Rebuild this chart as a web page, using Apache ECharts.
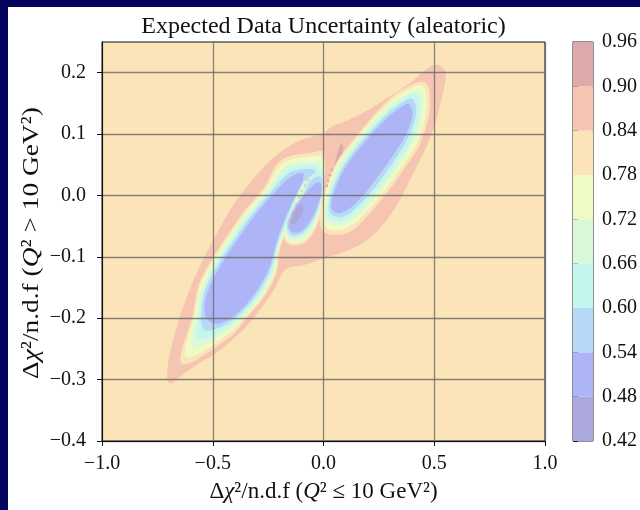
<!DOCTYPE html>
<html><head><meta charset="utf-8">
<script src="https://cdn.jsdelivr.net/npm/echarts@6/dist/echarts.min.js"></script>
<style>html,body{margin:0;padding:0;background:#fff}#c{width:640px;height:510px}</style>
</head><body><div id="c"></div>
<script>
// contour levels and fill colours (band i lies between levels[i] and levels[i+1])
const levels = [0.42,0.48,0.54,0.60,0.66,0.72,0.78,0.84,0.90,0.96];
const levelColors = ['#aaa8dc','#aeb5f6','#b7d8f6','#c3f6ec','#daf8da','#eefbc4','#fae4b8','#f6c5b1','#dcaaab'];
const xTicks = [-1.0,-0.5,0.0,0.5,1.0];
const yTicks = [-0.4,-0.3,-0.2,-0.1,0.0,0.1,0.2];

// contour outlines, in data units [x, y]
const envelope84 = [[-0.696,-0.306],[-0.704,-0.282],[-0.681,-0.238],[-0.636,-0.184],[-0.576,-0.129],[-0.501,-0.075],[-0.426,-0.026],[-0.350,0.012],[-0.260,0.050],[-0.170,0.077],[-0.080,0.093],[-0.005,0.100],[0.041,0.113],[0.101,0.121],[0.191,0.137],[0.311,0.164],[0.402,0.186],[0.462,0.205],[0.507,0.213],[0.544,0.207],[0.552,0.191],[0.537,0.164],[0.507,0.121],[0.462,0.077],[0.402,0.034],[0.341,-0.010],[0.281,-0.042],[0.206,-0.070],[0.101,-0.091],[-0.005,-0.103],[-0.095,-0.114],[-0.155,-0.117],[-0.188,-0.128],[-0.215,-0.148],[-0.275,-0.181],[-0.335,-0.208],[-0.411,-0.235],[-0.486,-0.257],[-0.561,-0.273],[-0.636,-0.292]];
const peak90 = [[0.080,0.085],[0.090,0.078],[0.078,0.060],[0.060,0.044],[0.050,0.042],[0.058,0.062]];
// broken (dotted) contour pieces along the two ridges
const ridgeDots90 = [[0.038,0.042],[0.029,0.033],[0.021,0.024],[0.015,0.016]];
const ridgeDots84 = [[-0.072,0.026],[-0.084,0.016],[-0.098,0.007],[-0.110,-0.003],[-0.122,-0.014],[-0.134,-0.024],[-0.146,-0.035],[-0.158,-0.044]];

const left84 = [[-0.038,0.071],[0.002,0.071],[-0.075,0.023],[-0.119,-0.014],[-0.158,-0.054],[-0.195,-0.085],[-0.212,-0.126],[-0.268,-0.165],[-0.343,-0.198],[-0.426,-0.232],[-0.639,-0.274],[-0.589,-0.192],[-0.565,-0.147],[-0.513,-0.109],[-0.445,-0.071],[-0.362,-0.027],[-0.272,0.011],[-0.189,0.058]];
const left78 = [[-0.050,0.064],[-0.005,0.063],[-0.080,0.022],[-0.123,-0.014],[-0.164,-0.053],[-0.200,-0.084],[-0.218,-0.124],[-0.274,-0.164],[-0.349,-0.196],[-0.433,-0.227],[-0.620,-0.263],[-0.580,-0.191],[-0.558,-0.149],[-0.505,-0.111],[-0.438,-0.073],[-0.355,-0.029],[-0.265,0.009],[-0.182,0.053]];
const left72 = [[-0.062,0.055],[-0.012,0.054],[-0.083,0.022],[-0.128,-0.013],[-0.168,-0.052],[-0.203,-0.083],[-0.224,-0.123],[-0.281,-0.162],[-0.356,-0.195],[-0.441,-0.222],[-0.589,-0.247],[-0.570,-0.190],[-0.549,-0.151],[-0.496,-0.113],[-0.429,-0.074],[-0.346,-0.031],[-0.256,0.007],[-0.171,0.047]];
const left66 = [[-0.072,0.049],[-0.023,0.047],[-0.087,0.021],[-0.131,-0.012],[-0.173,-0.051],[-0.208,-0.082],[-0.232,-0.122],[-0.289,-0.160],[-0.364,-0.193],[-0.448,-0.217],[-0.565,-0.233],[-0.559,-0.189],[-0.541,-0.153],[-0.489,-0.115],[-0.421,-0.077],[-0.338,-0.033],[-0.248,0.005],[-0.164,0.041]];
const left60 = [[-0.083,0.043],[-0.035,0.040],[-0.092,0.021],[-0.135,-0.011],[-0.179,-0.049],[-0.211,-0.082],[-0.238,-0.120],[-0.296,-0.159],[-0.371,-0.191],[-0.456,-0.213],[-0.540,-0.219],[-0.550,-0.188],[-0.534,-0.154],[-0.481,-0.116],[-0.414,-0.078],[-0.331,-0.035],[-0.241,0.003],[-0.156,0.036]];
const left54 = [[-0.092,0.036],[-0.098,0.020],[-0.140,-0.010],[-0.185,-0.048],[-0.215,-0.080],[-0.245,-0.118],[-0.305,-0.157],[-0.380,-0.189],[-0.463,-0.208],[-0.516,-0.205],[-0.538,-0.186],[-0.523,-0.157],[-0.471,-0.118],[-0.403,-0.080],[-0.320,-0.037],[-0.230,0.001],[-0.147,0.031]];

const mid84 = [[-0.002,0.066],[0.000,0.007],[-0.008,-0.014],[-0.018,-0.038],[-0.048,-0.062],[-0.096,-0.079],[-0.165,-0.078],[-0.180,-0.051],[-0.170,-0.033],[-0.143,-0.014],[-0.104,0.005],[-0.098,0.051]];
const mid78 = [[-0.005,0.058],[-0.002,0.007],[-0.009,-0.014],[-0.024,-0.037],[-0.053,-0.060],[-0.099,-0.076],[-0.161,-0.074],[-0.176,-0.051],[-0.167,-0.033],[-0.140,-0.015],[-0.102,0.005],[-0.089,0.044]];
const mid72 = [[-0.008,0.048],[-0.003,0.007],[-0.012,-0.014],[-0.029,-0.036],[-0.060,-0.058],[-0.102,-0.071],[-0.156,-0.071],[-0.171,-0.050],[-0.162,-0.034],[-0.137,-0.016],[-0.098,0.004],[-0.078,0.036]];
const mid66 = [[-0.011,0.040],[-0.005,0.007],[-0.015,-0.014],[-0.035,-0.035],[-0.066,-0.055],[-0.105,-0.067],[-0.152,-0.067],[-0.168,-0.049],[-0.158,-0.035],[-0.132,-0.016],[-0.095,0.003],[-0.069,0.029]];
const mid60 = [[-0.014,0.031],[-0.006,0.007],[-0.018,-0.013],[-0.039,-0.034],[-0.072,-0.053],[-0.110,-0.064],[-0.147,-0.064],[-0.164,-0.049],[-0.155,-0.035],[-0.129,-0.017],[-0.090,0.002],[-0.059,0.023]];
const mid54 = [[-0.017,0.021],[-0.009,0.007],[-0.023,-0.013],[-0.047,-0.033],[-0.080,-0.051],[-0.113,-0.060],[-0.143,-0.060],[-0.158,-0.049],[-0.150,-0.036],[-0.125,-0.018],[-0.087,0.001],[-0.050,0.016]];
const mid48 = [[-0.098,-0.014],[-0.090,-0.020],[-0.102,-0.034],[-0.125,-0.045],[-0.143,-0.046],[-0.147,-0.038],[-0.132,-0.025],[-0.113,-0.016]];

const right84 = [[0.459,0.184],[0.480,0.143],[0.435,0.083],[0.374,0.048],[0.299,0.010],[0.217,-0.026],[0.107,-0.061],[-0.005,-0.057],[-0.002,-0.004],[0.056,0.052],[0.138,0.092],[0.251,0.140],[0.344,0.170]];
const right78 = [[0.448,0.178],[0.465,0.141],[0.423,0.086],[0.362,0.051],[0.287,0.013],[0.205,-0.023],[0.101,-0.054],[0.005,-0.050],[0.006,-0.003],[0.062,0.050],[0.144,0.091],[0.259,0.138],[0.347,0.165]];
const right72 = [[0.432,0.171],[0.448,0.139],[0.409,0.089],[0.349,0.054],[0.274,0.016],[0.191,-0.020],[0.095,-0.047],[0.014,-0.042],[0.017,-0.002],[0.069,0.048],[0.152,0.089],[0.269,0.136],[0.352,0.160]];
const right66 = [[0.417,0.164],[0.433,0.136],[0.397,0.092],[0.337,0.057],[0.262,0.019],[0.179,-0.016],[0.089,-0.041],[0.023,-0.035],[0.026,-0.001],[0.077,0.046],[0.159,0.086],[0.278,0.134],[0.356,0.155]];
const right60 = [[0.403,0.157],[0.418,0.134],[0.385,0.096],[0.325,0.060],[0.250,0.022],[0.167,-0.013],[0.084,-0.035],[0.030,-0.028],[0.033,0.000],[0.084,0.044],[0.167,0.085],[0.286,0.132],[0.359,0.152]];
const right54 = [[0.386,0.149],[0.402,0.132],[0.371,0.099],[0.311,0.064],[0.236,0.026],[0.153,-0.010],[0.078,-0.029],[0.038,-0.022],[0.044,0.001],[0.093,0.042],[0.176,0.083],[0.296,0.129],[0.364,0.147]];

// draw order: higher bands first, lower (inner) bands on top; band = index into levelColors
const shapes = [
  {pts: envelope84, band: 7}, {pts: peak90, band: 8},
  {pts: left84, band: 6}, {pts: mid84, band: 6}, {pts: right84, band: 6},
  {pts: left78, band: 5}, {pts: mid78, band: 5}, {pts: right78, band: 5},
  {pts: left72, band: 4}, {pts: mid72, band: 4}, {pts: right72, band: 4},
  {pts: left66, band: 3}, {pts: mid66, band: 3}, {pts: right66, band: 3},
  {pts: left60, band: 2}, {pts: mid60, band: 2}, {pts: right60, band: 2},
  {pts: left54, band: 1}, {pts: mid54, band: 1}, {pts: right54, band: 1},
  {pts: mid48, band: 0}
];

const FONT = 'Liberation Serif';
const fmt1 = v => (v < 0 ? '\u2212' : '') + Math.abs(v).toFixed(1);
const richName = {
  t: {fontFamily: FONT, fontSize: 24, fill: '#111', color: '#111'},
  i: {fontFamily: FONT, fontSize: 24, fontStyle: 'italic', fill: '#111', color: '#111'}
};

const chart = echarts.init(document.getElementById('c'), null, {renderer: 'canvas'});
chart.setOption({
  animation: false,
  backgroundColor: '#ffffff',
  graphic: [
    {type: 'rect', shape: {x: 0, y: 0, width: 640, height: 7}, style: {fill: '#05055f'}, z: -10},
    {type: 'rect', shape: {x: 0, y: 0, width: 8, height: 510}, style: {fill: '#05055f'}, z: -10},
    {type: 'text', x: 323.5, y: 27, style: {text: 'Expected Data Uncertainty (aleatoric)', font: '24px "Liberation Serif"', fill: '#111', textAlign: 'center', textVerticalAlign: 'middle'}},
    {type: 'text', x: 32, y: 243, rotation: Math.PI / 2, scaleX: 1.14, scaleY: 1,
     style: {text: '{t|Δ}{i|χ}{t|²/n.d.f (}{i|Q}{t|² > 10 GeV²)}', rich: richName, fill: '#111', textAlign: 'center', textVerticalAlign: 'middle'}}
  ],
  grid: [
    {left: 102, right: 95, top: 42, bottom: 69, show: true, backgroundColor: '#fae4b8', borderColor: '#111', borderWidth: 1},
    {left: 573, right: 47, top: 42, bottom: 69, show: true, backgroundColor: 'transparent', borderColor: '#222', borderWidth: 1}
  ],
  xAxis: [
    {gridIndex: 0, type: 'value', min: -1, max: 1, interval: 0.5, z: 10,
     axisLine: {show: true, onZero: false, lineStyle: {color: '#111', width: 1}},
     axisTick: {show: true, length: 5, lineStyle: {color: '#111'}, customValues: xTicks},
     axisLabel: {customValues: xTicks, formatter: fmt1, color: '#111', fontFamily: FONT, fontSize: 20, margin: 13},
     splitLine: {show: true, lineStyle: {color: 'rgba(105,105,105,0.8)', width: 1.3}},
     name: '{t|Δ}{i|χ}{t|²/n.d.f (}{i|Q}{t|² ≤ 10 GeV²)}', nameLocation: 'middle', nameGap: 39,
     nameTextStyle: {color: '#111', fontFamily: FONT, fontSize: 23, rich: {t: {fontFamily: FONT, fontSize: 23, color: '#111'}, i: {fontFamily: FONT, fontSize: 23, fontStyle: 'italic', color: '#111'}}}},
    {gridIndex: 1, type: 'value', min: 0, max: 1, show: false}
  ],
  yAxis: [
    {gridIndex: 0, type: 'value', min: -0.4, max: 0.25, interval: 0.1, z: 10,
     axisLine: {show: true, onZero: false, lineStyle: {color: '#111', width: 1}},
     axisTick: {show: true, length: 5, lineStyle: {color: '#111'}, customValues: yTicks},
     axisLabel: {customValues: yTicks, formatter: fmt1, color: '#111', fontFamily: FONT, fontSize: 20, margin: 16},
     splitLine: {show: true, lineStyle: {color: 'rgba(105,105,105,0.8)', width: 1.3}}},
    {gridIndex: 1, type: 'value', min: 0.42, max: 0.96, interval: 0.06, position: 'right',
     axisLine: {show: true, lineStyle: {color: '#222'}},
     axisTick: {show: true, length: 5, lineStyle: {color: '#222'}},
     axisLabel: {formatter: v => v.toFixed(2), color: '#111', fontFamily: FONT, fontSize: 20, margin: 9},
     splitLine: {show: false}}
  ],
  series: [
    {type: 'custom', xAxisIndex: 0, yAxisIndex: 0, clip: true,
     data: shapes.map((s, i) => [s.pts[0][0], s.pts[0][1], i]),
     renderItem: function (params, api) {
       const s = shapes[api.value(2)];
       return {type: 'polygon', z2: api.value(2),
               shape: {points: s.pts.map(p => api.coord(p)), smooth: 0.35},
               style: {fill: levelColors[s.band], stroke: null}};
     }},
    {type: 'scatter', xAxisIndex: 0, yAxisIndex: 0, z: 3, symbolSize: 2.6, silent: true,
     itemStyle: {color: '#d9a1a3'}, data: ridgeDots90},
    {type: 'scatter', xAxisIndex: 0, yAxisIndex: 0, z: 3, symbolSize: 2.6, silent: true,
     itemStyle: {color: '#f2c09c'}, data: ridgeDots84},
    {type: 'custom', xAxisIndex: 1, yAxisIndex: 1,
     data: levelColors.map((c, i) => [0, levels[i], levels[i + 1], i]),
     renderItem: function (params, api) {
       const a = api.coord([0, api.value(2)]);
       const b = api.coord([1, api.value(1)]);
       return {type: 'rect', shape: {x: a[0], y: a[1], width: b[0] - a[0], height: b[1] - a[1]},
               style: {fill: levelColors[api.value(3)], stroke: null}};
     }}
  ]
});
</script></body></html>
